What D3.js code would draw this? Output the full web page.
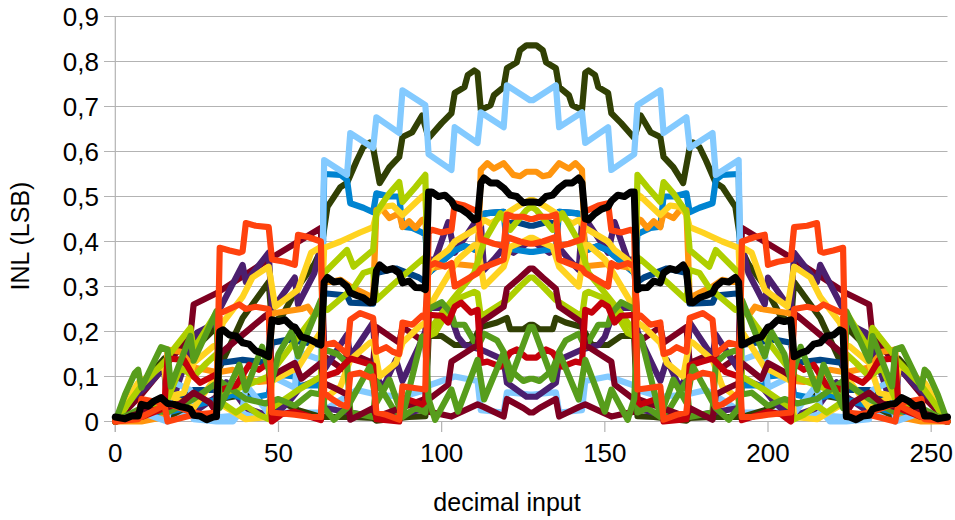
<!DOCTYPE html>
<html><head><meta charset="utf-8">
<script src="https://cdn.jsdelivr.net/npm/d3@7/dist/d3.min.js"></script>
<style>html,body{margin:0;padding:0;background:#fff}svg{display:block}text{font-family:"Liberation Sans",sans-serif;fill:#000}</style>
</head><body><svg id="c" width="955" height="520"></svg>
<script>
// each series: flat list of decimal input, INL value pairs
const lblueLow=[0,0,12,.01,24,.02,32,.01,48,.02,63,.02,64,.025,74,.07,80,.06,88,.055,95,.07,96,.08,100,.09,104,.1,111,.09,112,.025,119,.02,120,.065,127,.06,128,.06,135,.065,136,.02,143,.025,144,.09,151,.1,155,.09,159,.08,160,.07,167,.055,175,.06,181,.07,191,.025,192,.02,207,.02,223,.01,231,.02,243,.01,255,0];
const maroonEnv=[0,0,8,.06,16,.13,23,.19,24,.26,31,.285,47,.36,63,.43,64,.145,70,.115,71,.155,79,.13,80,.21,87,.175,88,.21,95,.175,96,.022,103,.011,111,.038,113,.032,119,.011,120,.05,125,.03,127,.02,128,.02,130,.03,135,.05,136,.011,142,.032,144,.038,152,.011,159,.022,160,.175,167,.21,168,.175,175,.21,176,.13,184,.155,185,.115,191,.145,192,.43,208,.36,224,.285,231,.26,232,.19,239,.13,247,.06,255,0];
const lblueBig=[0,0,8,.02,16,0,17,.09,23,.07,24,.005,31,0,36,0,39,.027,40,.082,47,.018,48,.1,55,.075,56,.155,63,.137,64,.581,71,.548,72,.641,79,.608,80,.676,87,.641,88,.736,95,.703,96,.594,103,.559,104,.654,111,.619,112,.687,119,.654,120,.747,127,.714,128,.714,135,.747,136,.654,143,.687,144,.619,151,.654,152,.559,159,.594,160,.703,167,.736,168,.641,175,.676,176,.608,183,.641,184,.548,191,.581,192,.137,199,.155,200,.075,207,.1,208,.018,215,.082,216,.027,219,0,224,0,231,.005,232,.07,238,.09,239,0,247,.02,255,0];
const oliveBig=[0,0,5,.06,10,.1,15,.14,16,.08,19,.09,24,.16,31,.21,32,.12,39,.23,42,.26,47,.31,48,.22,51,.233,56,.3,61,.35,63,.38,65,.477,69,.521,71,.53,74,.58,76,.61,78,.62,79,.608,81,.53,84,.565,87,.588,88,.632,91,.643,94,.68,96,.63,100,.663,103,.685,104,.73,107,.743,108,.77,110,.78,111,.775,112,.692,115,.703,116,.725,119,.743,120,.785,123,.798,124,.825,126,.836,129,.836,131,.825,132,.798,135,.785,136,.743,139,.725,140,.703,143,.692,144,.775,145,.78,147,.77,148,.743,151,.73,152,.685,155,.663,159,.63,161,.68,164,.643,167,.632,168,.588,171,.565,174,.53,176,.608,177,.62,179,.61,181,.58,184,.53,186,.521,190,.477,192,.38,194,.35,199,.3,204,.233,207,.22,208,.31,213,.26,216,.23,223,.12,224,.21,231,.16,236,.09,239,.08,240,.14,245,.1,250,.06,255,0];
const oliveLow=[0,0,12,.02,16,.01,24,.04,32,.05,40,.06,48,.03,52,.04,56,.025,63,.01,64,.01,72,.01,79,.008,80,.002,90,.01,95,.012,96,.19,100,.19,104,.17,109,.17,112,.21,117,.22,120,.23,121,.205,125,.205,127,.215,128,.215,130,.205,134,.205,135,.23,138,.22,143,.21,146,.17,151,.17,155,.19,159,.19,160,.012,165,.01,175,.002,176,.008,183,.01,191,.01,192,.01,199,.025,203,.04,207,.03,215,.06,223,.05,231,.04,239,.01,243,.02,255,0];
const purpleA=[0,0,5,.05,10,.08,15,.12,16,.01,20,.1,22,.144,25,.197,31,.22,32,.25,39,.348,40,.31,47,.375,48,.248,55,.32,56,.26,61,.33,63,.39,64,.115,71,.193,72,.144,79,.22,80,.1,82,.075,86,.137,88,.09,93,.166,95,.2,96,.36,98,.36,102,.443,104,.375,110,.44,112,.44,113,.337,116,.36,119,.386,122,.375,127,.4,128,.4,133,.375,136,.386,139,.36,142,.337,143,.44,145,.44,151,.375,153,.443,157,.36,159,.36,160,.2,162,.166,167,.09,169,.137,173,.075,175,.1,176,.22,183,.144,184,.193,191,.115,192,.39,194,.33,199,.26,200,.32,207,.248,208,.375,215,.31,216,.348,223,.25,224,.22,230,.197,233,.144,235,.1,239,.01,240,.12,245,.08,250,.05,255,0];
const purpleB=[0,0,8,.02,16,.04,24,.02,32,.06,34,.087,36,.07,40,.03,48,.01,53,.042,57,.078,61,.089,63,.08,64,.03,72,.02,80,.01,88,.015,95,.03,96,.255,102,.25,105,.188,107,.17,112,.16,119,.137,120,.086,126,.055,127,.055,128,.055,129,.055,135,.086,136,.137,143,.16,148,.17,150,.188,153,.25,159,.255,160,.03,167,.015,175,.01,183,.02,191,.03,192,.08,194,.089,198,.078,202,.042,207,.01,215,.03,219,.07,221,.087,223,.06,231,.02,239,.04,247,.02,255,0];
const navy=[0,0,16,.04,24,.07,31,.07,32,.13,39,.137,47,.13,48,.175,53,.182,63,.17,64,.285,71,.28,72,.264,79,.262,80,.33,86,.34,93,.32,95,.31,96,.33,104,.38,107,.39,111,.38,112,.46,114,.463,119,.466,120,.44,123,.443,127,.435,128,.435,132,.443,135,.44,136,.466,141,.463,143,.46,144,.38,148,.39,151,.38,159,.33,160,.31,162,.32,169,.34,175,.33,176,.262,183,.264,184,.28,191,.285,192,.17,202,.182,207,.175,208,.13,216,.137,223,.13,224,.07,231,.07,239,.04,255,0];
const blue=[0,0,16,.02,32,.05,36,.06,40,.05,47,.06,48,.105,55,.1,56,.08,63,.08,64,.55,69,.548,71,.537,72,.485,76,.475,79,.465,80,.507,84,.5,87,.5,88,.433,91,.43,94,.42,95,.415,96,.33,104,.38,107,.39,111,.38,112,.46,114,.463,119,.466,120,.385,123,.381,127,.377,128,.377,132,.381,135,.385,136,.466,141,.463,143,.46,144,.38,148,.39,151,.38,159,.33,160,.415,161,.42,164,.43,167,.433,168,.5,171,.5,175,.507,176,.465,179,.475,183,.485,184,.537,186,.548,191,.55,192,.08,199,.08,200,.1,207,.105,208,.06,215,.05,219,.06,223,.05,239,.02,255,0];
const orange=[0,0,8,0,15,.01,16,.16,20,.155,24,.12,31,.11,32,.11,36,.115,40,.095,44,.088,47,.09,48,.24,57,.25,59,.255,61,.235,63,.25,64,.31,66,.31,69,.315,72,.3,76,.286,79,.275,80,.47,82,.47,84,.452,87,.463,88,.432,90,.445,92,.43,94,.448,95,.45,96,.34,104,.35,111,.345,112,.559,114,.574,116,.562,119,.574,122,.548,124,.545,126,.555,127,.555,128,.555,129,.555,131,.545,133,.548,136,.574,139,.562,141,.574,143,.559,144,.345,151,.35,159,.34,160,.45,161,.448,163,.43,165,.445,167,.432,168,.463,171,.452,173,.47,175,.47,176,.275,179,.286,183,.3,186,.315,189,.31,191,.31,192,.25,194,.235,196,.255,198,.25,207,.24,208,.09,211,.088,215,.095,219,.115,223,.11,224,.11,231,.12,235,.155,239,.16,240,.01,247,0,255,0];
const yellowA=[0,0,3,.03,6,.075,7,.086,10,.1,14,.122,15,.12,16,.055,21,.064,24,.13,30,.167,31,.17,33,.22,39,.277,42,.32,47,.344,49,.255,56,.293,60,.375,63,.388,64,.05,69,.078,72,.137,78,.175,79,.178,81,.1,86,.13,88,.175,93,.21,95,.22,96,.25,98,.277,103,.337,105,.36,110,.392,111,.392,113,.3,119,.344,121,.388,125,.4,127,.408,128,.408,130,.4,134,.388,136,.344,142,.3,144,.392,145,.392,150,.36,152,.337,157,.277,159,.25,160,.22,162,.21,167,.175,169,.13,174,.1,176,.178,177,.175,183,.137,186,.078,191,.05,192,.388,195,.375,199,.293,206,.255,208,.344,213,.32,216,.277,222,.22,224,.17,225,.167,231,.13,234,.064,239,.055,240,.12,241,.122,245,.1,248,.086,249,.075,252,.03,255,0];
const yellowB=[0,0,8,.02,16,.06,24,.03,31,.1,32,.04,40,.005,47,.01,48,.09,56,.12,63,.2,64,.386,69,.4,75,.42,79,.432,80,.46,82,.477,85,.48,88,.459,94,.5,95,.505,96,.33,98,.359,102,.381,104,.4,111,.43,113,.448,115,.44,120,.463,123,.477,127,.492,128,.492,132,.477,135,.463,140,.44,142,.448,144,.43,151,.4,153,.381,157,.359,159,.33,160,.505,161,.5,167,.459,170,.48,173,.477,175,.46,176,.432,180,.42,186,.4,191,.386,192,.2,199,.12,207,.09,208,.01,215,.005,223,.04,224,.1,231,.03,239,.06,247,.02,255,0];
const limeA=[0,0,8,.08,16,.14,17,.153,23,.208,24,.16,31,.242,32,.045,37,.02,40,.035,44,.015,47,.005,48,.03,56,.07,63,.1,64,.33,71,.381,73,.344,79,.381,80,.465,84,.507,87,.532,88,.488,92,.521,95,.548,96,.2,100,.24,104,.277,110,.33,113,.4,118,.463,121,.426,126,.47,127,.475,128,.475,129,.47,134,.426,137,.463,142,.4,145,.33,151,.277,155,.24,159,.2,160,.548,163,.521,167,.488,168,.532,171,.507,175,.465,176,.381,182,.344,184,.381,191,.33,192,.1,199,.07,207,.03,208,.005,211,.015,215,.035,218,.02,223,.045,224,.242,231,.16,232,.208,238,.153,239,.14,247,.08,255,0];
const limeB=[0,0,10,.03,16,.05,20,.12,24,.1,28,.13,31,.15,32,.06,40,.08,47,.1,50,.13,57,.197,63,.255,65,.248,73,.297,76,.33,79,.337,80,.27,86,.31,94,.36,95,.365,96,.19,98,.197,104,.27,110,.288,111,.285,112,.233,120,.27,124,.3,127,.32,128,.32,131,.3,135,.27,143,.233,144,.285,145,.288,151,.27,157,.197,159,.19,160,.365,161,.36,169,.31,175,.27,176,.337,179,.33,182,.297,190,.248,192,.255,198,.197,205,.13,208,.1,215,.08,223,.06,224,.15,227,.13,231,.1,235,.12,239,.05,245,.03,255,0];
const greenB=[0,0,8,.03,16,.02,24,.05,32,.09,40,.05,46,.04,50,.05,55,.035,60,.064,63,.06,64,.16,68,.15,71,.13,72,.02,79,.01,80,.09,85,.03,88,.01,92,.03,95,.02,96,.25,100,.265,103,.24,104,.215,107,.215,111,.165,113,.195,117,.18,119,.155,121,.115,125,.09,127,.095,128,.095,130,.09,134,.115,136,.155,138,.18,142,.195,144,.165,148,.215,151,.215,152,.24,155,.265,159,.25,160,.02,163,.03,167,.01,170,.03,175,.09,176,.01,183,.02,184,.13,187,.15,191,.16,192,.06,195,.064,200,.035,205,.05,209,.04,215,.05,223,.09,231,.05,239,.02,247,.03,255,0];
const maroonMid=[0,0,8,.02,15,.03,20,.04,24,.064,29,.042,31,.02,32,.15,46,.235,47,.24,48,.1,50,.11,55,.13,57,.095,63,.13,64,.085,67,.075,71,.06,72,.004,79,.03,80,.01,95,.05,96,.049,102,.082,103,.133,111,.17,112,.22,119,.255,120,.295,124,.32,127,.34,128,.34,131,.32,135,.295,136,.255,143,.22,144,.17,152,.133,153,.082,159,.049,160,.05,175,.01,176,.03,183,.004,184,.06,188,.075,191,.085,192,.13,198,.095,200,.13,205,.11,207,.1,208,.24,209,.235,223,.15,224,.02,226,.042,231,.064,235,.04,240,.03,247,.02,255,0];
const red=[0,0,8,.01,15,.03,16,.14,21,.137,24,.1,26,.086,31,.105,32,.07,37,.08,41,.126,44,.115,47,.13,48,0,51,.016,55,.022,60,.01,63,.003,64,.1,68,.11,72,.14,79,.125,80,.005,87,0,88,.053,94,.038,95,.045,96,.237,100,.235,102,.22,104,.255,106,.264,109,.242,111,.248,112,.13,114,.133,118,.122,121,.153,123,.16,126,.142,127,.142,128,.142,129,.142,132,.16,134,.153,137,.122,141,.133,143,.13,144,.248,146,.242,149,.264,151,.255,153,.22,155,.235,159,.237,160,.045,161,.038,167,.053,168,0,175,.005,176,.125,183,.14,187,.11,191,.1,192,.003,195,.01,200,.022,204,.016,207,0,208,.13,211,.115,214,.126,218,.08,223,.07,224,.105,229,.086,231,.1,234,.137,239,.14,240,.03,247,.01,255,0];
const greenA=[0,0,3,.06,6,.108,7,.115,8,.075,11,.12,14,.165,16,.16,17,.078,23,.19,24,.135,31,.245,32,.03,38,.126,40,.07,45,.166,48,.09,50,.15,54,.2,56,.145,63,.27,64,.03,67,.004,71,.03,78,.122,80,.042,84,.093,88,.011,94,.189,95,.19,96,.05,98,.004,103,.071,105,.022,111,.137,113,.049,119,.153,121,.093,127,.21,128,.21,134,.093,136,.153,142,.049,144,.137,150,.022,152,.071,157,.004,159,.05,160,.19,161,.189,167,.011,171,.093,175,.042,177,.122,184,.03,188,.004,191,.03,192,.27,199,.145,201,.2,205,.15,207,.09,210,.166,215,.07,217,.126,223,.03,224,.245,231,.135,232,.19,238,.078,239,.16,241,.165,244,.12,247,.075,248,.115,249,.108,252,.06,255,0];
const orredB=[0,0,8,.01,16,.04,24,.02,31,.01,32,.24,38,.26,40,.25,43,.255,47,.25,48,.02,55,.015,60,.01,63,.01,64,.17,67,.175,71,.15,72,.226,75,.241,79,.23,80,.155,83,.165,85,.155,87,.15,88,.22,91,.215,94,.235,95,.23,96,.345,98,.352,101,.344,103,.352,104,.3,111,.33,112,.34,119,.36,120,.41,124,.4,127,.395,128,.395,131,.4,135,.41,136,.36,143,.34,144,.33,151,.3,152,.352,154,.344,157,.352,159,.345,160,.23,161,.235,164,.215,167,.22,168,.15,170,.155,172,.165,175,.155,176,.23,180,.241,183,.226,184,.15,188,.175,191,.17,192,.01,195,.01,200,.015,207,.02,208,.25,212,.255,215,.25,217,.26,223,.24,224,.01,231,.02,239,.04,247,.01,255,0];
const orredA=[0,0,7,.005,8,.05,15,.04,16,0,24,.015,31,.02,32,.386,35,.38,38,.375,39,.378,40,.441,43,.435,47,.432,48,.36,52,.355,55,.348,56,.415,59,.41,63,.4,64,.064,66,.052,69,.038,71,.033,72,.104,75,.108,78,.098,79,.1,80,.02,83,.015,87,.004,88,.078,91,.075,95,.071,96,.42,97,.426,100,.42,103,.425,104,.485,107,.48,110,.47,111,.47,112,.405,116,.395,119,.39,120,.46,122,.455,125,.455,127,.45,128,.45,130,.455,133,.455,135,.46,136,.39,139,.395,143,.405,144,.47,145,.47,148,.48,151,.485,152,.425,155,.42,158,.426,159,.42,160,.071,164,.075,167,.078,168,.004,172,.015,175,.02,176,.1,177,.098,180,.108,183,.104,184,.033,186,.038,189,.052,191,.064,192,.4,196,.41,199,.415,200,.348,203,.355,207,.36,208,.432,212,.435,215,.441,216,.378,217,.375,220,.38,223,.386,224,.02,231,.015,239,0,240,.04,247,.05,248,.005,255,0];
const black=[0,.01,3,.006,5,.012,7,.012,8,.038,10,.034,12,.046,14,.053,16,.04,18,.038,20,.033,22,.03,23,.027,24,.014,26,.012,28,.004,30,.01,31,.011,32,.2,33,.204,35,.192,37,.19,39,.175,41,.172,43,.157,45,.152,47,.144,48,.226,50,.222,52,.226,54,.212,55,.21,57,.188,59,.184,61,.177,63,.17,64,.31,65,.32,67,.31,69,.312,71,.3,72,.286,74,.28,76,.275,78,.264,79,.265,80,.335,81,.348,83,.336,85,.34,87,.33,88,.308,90,.312,92,.298,94,.297,95,.293,96,.51,97,.51,99,.5,101,.503,103,.49,104,.477,106,.472,108,.462,110,.448,111,.45,112,.53,113,.541,115,.53,117,.53,119,.519,121,.503,123,.5,125,.486,127,.488,128,.488,130,.486,132,.5,134,.503,136,.519,138,.53,140,.53,142,.541,143,.53,144,.45,145,.448,147,.462,149,.472,151,.477,152,.49,154,.503,156,.5,158,.51,159,.51,160,.293,161,.297,163,.298,165,.312,167,.308,168,.33,170,.34,172,.336,174,.348,175,.335,176,.265,177,.264,179,.275,181,.28,183,.286,184,.3,186,.312,188,.31,190,.32,191,.31,192,.17,194,.177,196,.184,198,.188,200,.21,201,.212,203,.226,205,.222,207,.226,208,.144,210,.152,212,.157,214,.172,216,.175,218,.19,220,.192,222,.204,223,.2,224,.011,225,.01,227,.004,229,.012,231,.014,232,.027,233,.03,235,.033,237,.038,239,.04,241,.053,243,.046,245,.034,247,.038,248,.012,250,.012,252,.006,255,.01];

const seriesData=[lblueLow,maroonEnv,oliveBig,oliveLow,purpleA,purpleB,navy,blue,orange,lblueBig,yellowA,yellowB,limeA,limeB,greenB,maroonMid,red,greenA,orredB,orredA,black];
const seriesColors=["#83caff","#7e0021","#314004","#314004","#4b1f6f","#4b1f6f","#004586","#0084d1","#ff950e","#83caff","#ffd320","#ffd320","#aecf00","#aecf00","#579d1c","#7e0021","#c5000b","#579d1c","#ff420e","#ff420e","#000000"];
const xTicks=[0,50,100,150,200,250];
const yTicks=[0,.1,.2,.3,.4,.5,.6,.7,.8,.9];

const svg=d3.select("#c");
const x=d3.scaleLinear().domain([0,255]).range([115.3,947.5]);
const y=d3.scaleLinear().domain([0,.9]).range([421.5,16.5]);
const grid="#b3b3b3";
const fmt=d=>d3.format(".1f")(d).replace(".",",").replace(/^0,0$/,"0");

const gy=svg.append("g");
gy.selectAll("line").data(yTicks).join("line").attr("x1",104).attr("x2",947.5)
  .attr("y1",d=>y(d)).attr("y2",d=>y(d)).attr("stroke",grid).attr("stroke-width",1.2);
gy.selectAll("text").data(yTicks).join("text").attr("x",99).attr("y",d=>y(d)+9)
  .attr("text-anchor","end").attr("font-size",26).text(fmt);

svg.append("line").attr("x1",x(0)).attr("x2",x(0)).attr("y1",16.5).attr("y2",432).attr("stroke",grid).attr("stroke-width",1.2);
const gx=svg.append("g");
gx.selectAll("line").data(xTicks).join("line").attr("x1",d=>x(d)).attr("x2",d=>x(d))
  .attr("y1",421.5).attr("y2",432).attr("stroke",grid).attr("stroke-width",1.2);
gx.selectAll("text").data(xTicks).join("text").attr("x",d=>x(d)).attr("y",462)
  .attr("text-anchor","middle").attr("font-size",26).text(d=>d);

const line=d3.line().x(d=>x(d.x)).y(d=>y(d.y));
const pts=a=>d3.range(0,a.length,2).map(i=>({x:a[i],y:a[i+1]}));
svg.append("g").selectAll("path").data(seriesData).join("path")
  .attr("fill","none").attr("stroke",(d,i)=>seriesColors[i])
  .attr("stroke-width",(d,i)=>i===seriesData.length-1?7:6.2)
  .attr("stroke-linejoin","round").attr("stroke-linecap","round")
  .attr("d",d=>line(pts(d)));

svg.append("text").attr("x",507).attr("y",511).attr("text-anchor","middle").attr("font-size",25).text("decimal input");
svg.append("text").attr("transform","translate(29,236) rotate(-90)").attr("text-anchor","middle").attr("font-size",25).text("INL (LSB)");
</script></body></html>
